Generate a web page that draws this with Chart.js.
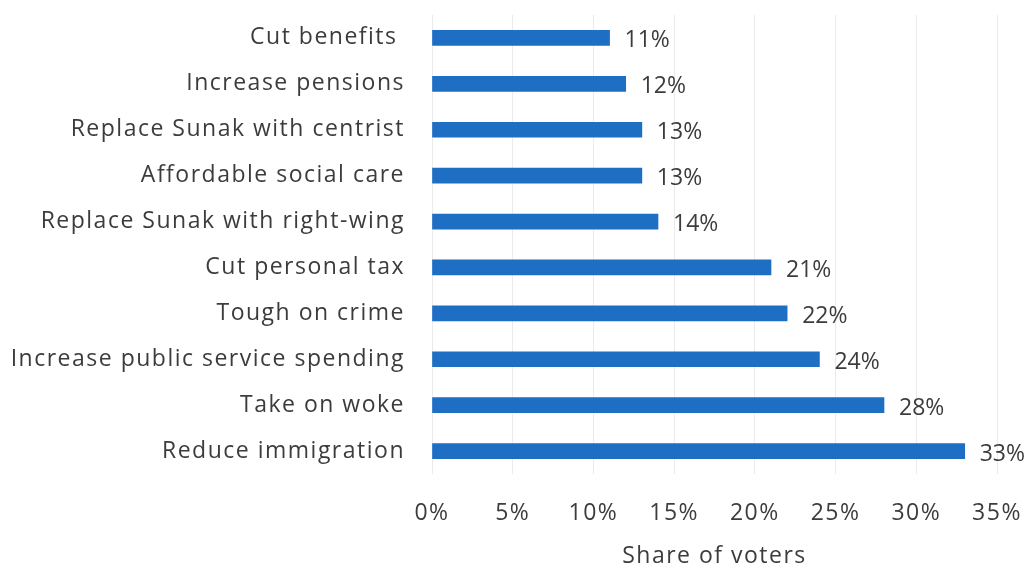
<!DOCTYPE html>
<html>
<head>
<meta charset="utf-8">
<script src="https://cdn.jsdelivr.net/npm/chart.js@4"></script>
<style>
  html, body { margin: 0; padding: 0; background: #fff; }
  #wrap { width: 1030px; height: 569px; }
</style>
</head>
<body>
<div id="wrap"><canvas id="priorityChart" width="1030" height="569"></canvas></div>
<script>
// Data
const categories = [
    'Cut benefits ',
    'Increase pensions',
    'Replace Sunak with centrist',
    'Affordable social care',
    'Replace Sunak with right-wing',
    'Cut personal tax',
    'Tough on crime',
    'Increase public service spending',
    'Take on woke',
    'Reduce immigration'
];
const shareValues = [11, 12, 13, 13, 14, 21, 22, 24, 28, 33];
const xTicks = [0, 5, 10, 15, 20, 25, 30, 35];
const xTitle = 'Share of voters';

const FONT = "'Open Sans', 'Noto Sans', sans-serif";
const SIZE = 23;
const TEXT = '#3c3c3c';

// wider letter spacing to get closer to the original geometric font
const spacing = {
    id: 'spacing',
    beforeLayout(chart) { chart.ctx.letterSpacing = '1.5px'; },
    beforeDraw(chart) { chart.ctx.letterSpacing = '1.5px'; }
};

// draws the "NN%" labels at the end of each bar
const valueLabels = {
    id: 'valueLabels',
    afterDatasetsDraw(chart) {
        const ctx = chart.ctx;
        const meta = chart.getDatasetMeta(0);
        ctx.save();
        ctx.letterSpacing = '0px';
        ctx.font = SIZE + 'px ' + FONT;
        ctx.fillStyle = TEXT;
        ctx.textAlign = 'left';
        ctx.textBaseline = 'middle';
        meta.data.forEach((bar, i) => {
            ctx.fillText(shareValues[i] + '%', bar.x + 15, bar.y + 3);
        });
        ctx.restore();
    }
};

document.addEventListener('DOMContentLoaded', function() {
    const ctx = document.getElementById('priorityChart').getContext('2d');
    new Chart(ctx, {
        type: 'bar',
        data: {
            labels: categories,
            datasets: [{
                data: shareValues,
                backgroundColor: '#1e6ec4',
                borderWidth: 0,
                barThickness: 15
            }]
        },
        options: {
            indexAxis: 'y',
            responsive: false,
            animation: false,
            layout: { padding: { top: 15, right: 33, bottom: 0, left: 0 } },
            plugins: {
                legend: { display: false },
                tooltip: { enabled: false }
            },
            scales: {
                x: {
                    min: 0,
                    max: 35,
                    afterBuildTicks: (scale) => { scale.ticks = xTicks.map(v => ({ value: v })); },
                    afterFit: (scale) => {
                        scale.height = 95;
                        scale.paddingLeft = 0;
                        scale.paddingRight = 0;
                    },
                    grid: { color: '#ebebeb', drawTicks: false },
                    border: { display: false },
                    ticks: {
                        padding: 26,
                        color: TEXT,
                        font: { family: FONT, size: SIZE },
                        callback: (v) => v + '%'
                    },
                    title: {
                        display: true,
                        text: xTitle,
                        color: TEXT,
                        font: { family: FONT, size: SIZE },
                        padding: { top: 0, bottom: -1 }
                    }
                },
                y: {
                    afterFit: (scale) => {
                        scale.width = 432;
                        scale.paddingTop = 0;
                        scale.paddingBottom = 0;
                    },
                    grid: { display: false },
                    border: { display: false },
                    ticks: {
                        padding: 19,
                        color: TEXT,
                        font: { family: FONT, size: SIZE }
                    }
                }
            }
        },
        plugins: [spacing, valueLabels]
    });
});
</script>
</body>
</html>
